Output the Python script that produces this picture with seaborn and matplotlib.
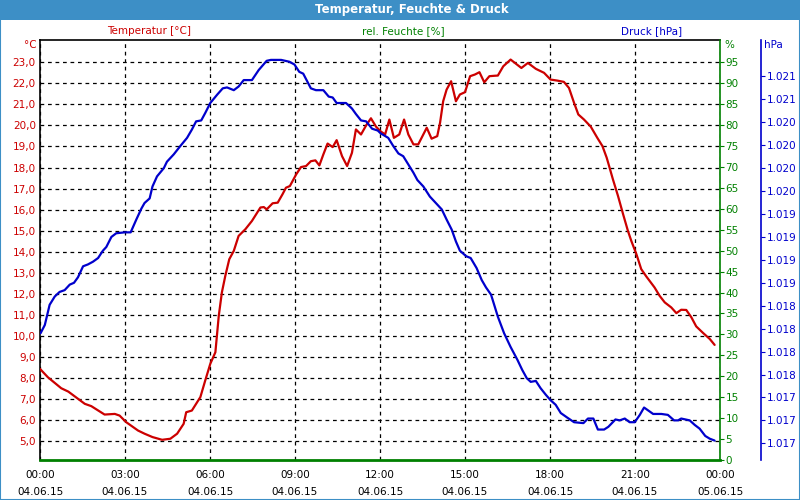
import math
import matplotlib
matplotlib.use("Agg")
import matplotlib.pyplot as plt
import matplotlib.ticker as mticker
from matplotlib.patches import Rectangle
import numpy as np
import pandas as pd
import seaborn as sns

# ---------------- data ----------------
temp_hours = [0.0, 0.28, 0.75, 1.0, 1.58, 1.81, 2.28, 2.64, 2.81, 3.04, 3.46, 3.69, 3.97,
              4.31, 4.6, 4.84, 5.07, 5.16, 5.36, 5.66, 5.83, 6.01, 6.19, 6.31, 6.42, 6.54,
              6.68, 6.84, 7.01, 7.25, 7.48, 7.78, 7.9, 8.0, 8.21, 8.39, 8.56, 8.68, 8.82,
              9.04, 9.21, 9.39, 9.56, 9.72, 9.86, 10.0, 10.15, 10.33, 10.47, 10.66, 10.84,
              11.01, 11.15, 11.33, 11.51, 11.68, 11.86, 12.02, 12.18, 12.33, 12.49, 12.68,
              12.85, 13.0, 13.18, 13.35, 13.65, 13.82, 14.02, 14.12, 14.23, 14.35, 14.51,
              14.68, 14.82, 15.0, 15.18, 15.35, 15.51, 15.68, 15.86, 16.04, 16.16, 16.35,
              16.61, 16.79, 16.99, 17.22, 17.5, 17.79, 18.02, 18.26, 18.49, 18.67, 18.85,
              19.0, 19.2, 19.44, 19.67, 19.85, 20.0, 20.08, 20.22, 20.4, 20.58, 20.75,
              20.87, 21.05, 21.22, 21.4, 21.69, 21.87, 22.05, 22.28, 22.46, 22.63, 22.81,
              22.99, 23.16, 23.4, 23.64, 23.81]
temp_values = [8.43, 8.03, 7.51, 7.35, 6.77, 6.66, 6.26, 6.29, 6.21, 5.90, 5.50, 5.35, 5.19,
               5.06, 5.11, 5.35, 5.82, 6.37, 6.45, 7.09, 7.87, 8.67, 9.22, 10.96, 12.07, 12.85,
               13.64, 14.04, 14.75, 15.07, 15.46, 16.10, 16.12, 16.01, 16.30, 16.33, 16.73,
               17.04, 17.12, 17.67, 18.02, 18.07, 18.30, 18.34, 18.10, 18.62, 19.14, 18.97,
               19.30, 18.54, 18.07, 18.70, 19.81, 19.57, 20.00, 20.34, 19.94, 19.72, 19.57,
               20.28, 19.41, 19.57, 20.28, 19.57, 19.10, 19.10, 19.89, 19.37, 19.49, 20.13,
               21.15, 21.70, 22.10, 21.15, 21.47, 21.58, 22.34, 22.42, 22.53, 22.05, 22.34,
               22.36, 22.37, 22.81, 23.13, 22.94, 22.73, 22.97, 22.69, 22.50, 22.18, 22.13,
               22.07, 21.78, 21.07, 20.52, 20.28, 19.94, 19.41, 19.02, 18.47, 18.10, 17.44,
               16.65, 15.78, 14.99, 14.51, 13.88, 13.17, 12.82, 12.30, 11.90, 11.59, 11.35,
               11.08, 11.24, 11.23, 10.88, 10.45, 10.14, 9.85, 9.57]

press_hours = [0.02, 0.17, 0.34, 0.52, 0.69, 0.87, 1.05, 1.2, 1.34, 1.52, 1.69, 1.87, 2.05,
               2.22, 2.34, 2.52, 2.69, 2.99, 3.2, 3.4, 3.58, 3.69, 3.87, 3.97, 4.13, 4.37,
               4.48, 4.72, 4.95, 5.19, 5.36, 5.51, 5.69, 5.83, 6.01, 6.25, 6.45, 6.6, 6.84,
               7.01, 7.19, 7.48, 7.72, 8.0, 8.15, 8.51, 8.8, 8.98, 9.15, 9.29, 9.41, 9.56,
               9.74, 10.0, 10.19, 10.33, 10.47, 10.8, 11.01, 11.15, 11.33, 11.51, 11.72,
               11.92, 12.02, 12.29, 12.47, 12.65, 12.82, 13.0, 13.18, 13.32, 13.53, 13.76,
               14.0, 14.18, 14.35, 14.53, 14.68, 14.82, 15.04, 15.2, 15.41, 15.59, 15.74,
               15.92, 16.04, 16.16, 16.38, 16.61, 16.85, 17.02, 17.18, 17.32, 17.5, 17.67,
               17.85, 18.02, 18.2, 18.38, 18.61, 18.85, 19.18, 19.34, 19.53, 19.69, 19.91,
               20.06, 20.31, 20.46, 20.64, 20.81, 20.99, 21.17, 21.32, 21.46, 21.64, 21.93,
               22.16, 22.38, 22.52, 22.63, 22.93, 23.11, 23.28, 23.48, 23.64, 23.81]
press_values = [1017.95, 1018.04, 1018.26, 1018.35, 1018.40, 1018.42, 1018.48, 1018.50,
                1018.56, 1018.68, 1018.70, 1018.73, 1018.77, 1018.85, 1018.89, 1019.00,
                1019.04, 1019.05, 1019.05, 1019.19, 1019.31, 1019.37, 1019.42, 1019.55,
                1019.66, 1019.75, 1019.82, 1019.90, 1019.99, 1020.08, 1020.17, 1020.26,
                1020.27, 1020.35, 1020.46, 1020.55, 1020.62, 1020.63, 1020.60, 1020.64,
                1020.71, 1020.71, 1020.82, 1020.92, 1020.93, 1020.93, 1020.91, 1020.88,
                1020.80, 1020.78, 1020.71, 1020.62, 1020.60, 1020.60, 1020.53, 1020.52,
                1020.46, 1020.46, 1020.40, 1020.34, 1020.27, 1020.26, 1020.18, 1020.16,
                1020.13, 1020.08, 1019.99, 1019.91, 1019.88, 1019.79, 1019.70, 1019.62,
                1019.55, 1019.44, 1019.36, 1019.30, 1019.19, 1019.08, 1018.95, 1018.85,
                1018.79, 1018.77, 1018.66, 1018.53, 1018.45, 1018.37, 1018.25, 1018.13,
                1017.95, 1017.80, 1017.66, 1017.55, 1017.46, 1017.42, 1017.43, 1017.35,
                1017.28, 1017.22, 1017.17, 1017.08, 1017.03, 1016.98, 1016.97, 1017.02,
                1017.02, 1016.90, 1016.90, 1016.93, 1017.01, 1017.00, 1017.02, 1016.98,
                1016.98, 1017.06, 1017.14, 1017.11, 1017.07, 1017.07, 1017.06, 1017.00,
                1017.00, 1017.02, 1017.00, 1016.95, 1016.91, 1016.83, 1016.80, 1016.78]

x_tick_hours = [0, 3, 6, 9, 12, 15, 18, 21, 24]
x_tick_labels = ["00:00\n04.06.15", "03:00\n04.06.15", "06:00\n04.06.15", "09:00\n04.06.15",
                 "12:00\n04.06.15", "15:00\n04.06.15", "18:00\n04.06.15", "21:00\n04.06.15",
                 "00:00\n05.06.15"]
temp_ticks = list(range(5, 24))
hum_ticks = list(range(0, 100, 5))
press_ticks = [1016.75 + 0.25 * i for i in range(17)]

title = "Temperatur, Feuchte & Druck"
series_names = ["Temperatur [°C]", "rel. Feuchte [%]", "Druck [hPa]"]

# ---------------- style ----------------
sns.set_style("white")
plt.rcParams["font.family"] = ["DejaVu Sans"]
plt.rcParams["font.size"] = 7.5

RED = "#CC0000"
GREEN = "#008000"
BLUE = "#0000CC"
BAR = "#3D8FC6"

fig = plt.figure(figsize=(8, 5), dpi=100)
fig.patch.set_facecolor("white")

# title bar and frame
fig.patches.append(Rectangle((0, 0.96), 1, 0.04, transform=fig.transFigure,
                             facecolor=BAR, edgecolor="none", zorder=0))
fig.patches.append(Rectangle((0.0006, 0.001), 0.9988, 0.998, transform=fig.transFigure,
                             facecolor="none", edgecolor=BAR, linewidth=1.5, zorder=5))
fig.text(0.515, 0.98, title, color="white", fontweight="bold", fontsize=8.5,
         ha="center", va="center")

ax = fig.add_axes([40 / 800, 40 / 500, 680 / 800, 420 / 500])
ax.set_facecolor("white")
ax_h = ax.twinx()
ax_p = ax.twinx()
for a in (ax_h, ax_p):
    a.patch.set_visible(False)

df_t = pd.DataFrame({"h": temp_hours, "v": temp_values})
df_p = pd.DataFrame({"h": press_hours, "v": press_values})

sns.lineplot(data=df_t, x="h", y="v", ax=ax, color=RED, linewidth=1.6, zorder=3)
sns.lineplot(data=df_p, x="h", y="v", ax=ax_p, color=BLUE, linewidth=1.6, zorder=3)

# limits
ax.set_xlim(0, 24)
ax.set_ylim(4.1, 24.06)
ax_h.set_ylim(0, 100.3)
ax_p.set_ylim(1016.568, 1021.147)

for a in (ax, ax_h, ax_p):
    a.set_xlabel("")
    a.set_ylabel("")

# grid
ax.set_yticks(temp_ticks)
ax.set_xticks(x_tick_hours)
ax.set_xticks(range(0, 25), minor=True)
ax.set_xticklabels(x_tick_labels)
ax.grid(True, which="major", color="black", linestyle=(0, (3, 3)), linewidth=0.9)
ax.set_axisbelow(True)

# left axis (temperature)
ax.yaxis.set_major_formatter(mticker.FuncFormatter(lambda v, p: f"{v:.1f}".replace(".", ",")))
ax.tick_params(axis="y", colors=RED, length=0, pad=3, labelsize=7.5)
ax.tick_params(axis="x", which="both", direction="out", length=4, color="black",
               labelcolor="black", pad=3, labelsize=7.5)
for lab in ax.get_xticklabels():
    lab.set_linespacing(1.9)
for s in ("left", "top"):
    ax.spines[s].set_color("black")
    ax.spines[s].set_linewidth(1.2)
ax.spines["right"].set_visible(False)
ax.spines["bottom"].set_color(GREEN)
ax.spines["bottom"].set_linewidth(2)

# humidity axis
ax_h.set_yticks(hum_ticks)
ax_h.yaxis.set_major_formatter(mticker.FuncFormatter(lambda v, p: f"{v:.0f}"))
ax_h.tick_params(axis="y", colors=GREEN, direction="out", length=3, pad=1, labelsize=7.5)
ax_h.spines["right"].set_color(GREEN)
ax_h.spines["right"].set_linewidth(1.2)
for s in ("left", "top", "bottom"):
    ax_h.spines[s].set_visible(False)

# pressure axis
ax_p.spines["right"].set_position(("axes", (761 - 40) / 680))
ax_p.set_yticks(press_ticks)
ax_p.yaxis.set_major_formatter(
    mticker.FuncFormatter(lambda v, p: f"{math.floor(v + 0.5) / 1000:.3f}"))
ax_p.tick_params(axis="y", colors=BLUE, direction="out", length=3, pad=1, labelsize=7.5)
ax_p.spines["right"].set_color(BLUE)
ax_p.spines["right"].set_linewidth(1.2)
for s in ("left", "top", "bottom"):
    ax_p.spines[s].set_visible(False)

# header labels and units
fig.text(149 / 800, 1 - 31 / 500, series_names[0], color=RED, ha="center", va="center")
fig.text(403 / 800, 1 - 31 / 500, series_names[1], color=GREEN, ha="center", va="center")
fig.text(652 / 800, 1 - 31 / 500, series_names[2], color=BLUE, ha="center", va="center")
fig.text(37 / 800, 1 - 45 / 500, "°C", color=RED, ha="right", va="center")
fig.text(724 / 800, 1 - 45 / 500, "%", color=GREEN, ha="left", va="center")
fig.text(764 / 800, 1 - 45 / 500, "hPa", color=BLUE, ha="left", va="center")

fig.savefig("out.png", dpi=100, facecolor="white")
